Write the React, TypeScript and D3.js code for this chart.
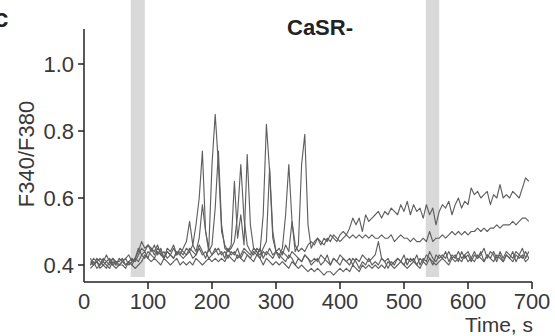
import * as d3 from "d3";

// sample grid: every 5 s from 10 s to 695 s
const time = d3.range(10, 700, 5);

const traceA = [
  0.41, 0.40, 0.42, 0.41, 0.40, 0.41, 0.42, 0.40, 0.41, 0.41,
  0.42, 0.40, 0.41, 0.42, 0.41, 0.43, 0.45, 0.44, 0.46, 0.45,
  0.44, 0.46, 0.43, 0.44, 0.42, 0.43, 0.45, 0.43, 0.44, 0.43,
  0.45, 0.44, 0.46, 0.52, 0.60, 0.74, 0.50, 0.45, 0.70, 0.85,
  0.70, 0.50, 0.46, 0.44, 0.45, 0.47, 0.55, 0.70, 0.54, 0.46,
  0.44, 0.43, 0.45, 0.44, 0.55, 0.82, 0.68, 0.48, 0.44, 0.43,
  0.45, 0.55, 0.70, 0.53, 0.44, 0.46, 0.70, 0.79, 0.52, 0.45,
  0.47, 0.48, 0.46, 0.48, 0.47, 0.49, 0.48, 0.47, 0.49, 0.50,
  0.49, 0.51, 0.54, 0.52, 0.54, 0.50, 0.55, 0.53, 0.54, 0.55,
  0.56, 0.54, 0.56, 0.55, 0.57, 0.56, 0.55, 0.58, 0.56, 0.59,
  0.55, 0.58, 0.56, 0.57, 0.54, 0.58, 0.55, 0.57, 0.52, 0.56,
  0.58, 0.57, 0.59, 0.55, 0.58, 0.60, 0.57, 0.59, 0.58, 0.63,
  0.61, 0.62, 0.60, 0.61, 0.62, 0.58, 0.61, 0.60, 0.64, 0.60,
  0.61, 0.60, 0.62, 0.61, 0.60, 0.63, 0.66, 0.65,
];

const traceB = [
  0.40, 0.41, 0.39, 0.40, 0.41, 0.40, 0.39, 0.41, 0.40, 0.40,
  0.41, 0.40, 0.41, 0.40, 0.42, 0.41, 0.43, 0.42, 0.44, 0.43,
  0.42, 0.44, 0.43, 0.42, 0.44, 0.43, 0.42, 0.44, 0.43, 0.45,
  0.47, 0.53, 0.46, 0.44, 0.48, 0.58, 0.50, 0.44, 0.46, 0.57,
  0.74, 0.52, 0.45, 0.44, 0.46, 0.65, 0.48, 0.55, 0.46, 0.73,
  0.52, 0.45, 0.44, 0.43, 0.45, 0.47, 0.69, 0.50, 0.44, 0.45,
  0.43, 0.46, 0.44, 0.53, 0.46, 0.44, 0.45, 0.44, 0.46, 0.47,
  0.46, 0.48, 0.47, 0.46, 0.48, 0.47, 0.49, 0.48, 0.47, 0.48,
  0.49, 0.48, 0.49, 0.48, 0.49, 0.48, 0.49, 0.48, 0.49, 0.48,
  0.48, 0.49, 0.48, 0.48, 0.49, 0.47, 0.48, 0.49, 0.48, 0.48,
  0.47, 0.48, 0.47, 0.47, 0.48, 0.47, 0.50, 0.47, 0.48, 0.48,
  0.49, 0.48, 0.49, 0.50, 0.49, 0.50, 0.49, 0.50, 0.49, 0.50,
  0.50, 0.51, 0.50, 0.51, 0.50, 0.51, 0.51, 0.52, 0.51, 0.52,
  0.52, 0.52, 0.53, 0.52, 0.53, 0.54, 0.54, 0.53,
];

const traceC = [
  0.40, 0.42, 0.41, 0.40, 0.42, 0.41, 0.40, 0.42, 0.41, 0.40,
  0.41, 0.42, 0.40, 0.41, 0.42, 0.44, 0.47, 0.45, 0.46, 0.44,
  0.46, 0.43, 0.45, 0.42, 0.44, 0.43, 0.42, 0.44, 0.43, 0.42,
  0.43, 0.44, 0.42, 0.43, 0.45, 0.43, 0.44, 0.42, 0.43, 0.45,
  0.43, 0.44, 0.42, 0.45, 0.43, 0.44, 0.42, 0.43, 0.45, 0.44,
  0.43, 0.45, 0.44, 0.42, 0.44, 0.43, 0.45, 0.43, 0.44, 0.42,
  0.44, 0.43, 0.42, 0.44, 0.43, 0.42, 0.41, 0.43, 0.42, 0.41,
  0.42, 0.41, 0.43, 0.42, 0.41, 0.40, 0.42, 0.41, 0.43, 0.42,
  0.41, 0.42, 0.40, 0.42, 0.41, 0.43, 0.42, 0.41, 0.42, 0.43,
  0.47, 0.42, 0.41, 0.42, 0.40, 0.41, 0.42, 0.41, 0.40, 0.42,
  0.41, 0.42, 0.40, 0.42, 0.41, 0.43, 0.42, 0.40, 0.43, 0.42,
  0.43, 0.42, 0.44, 0.42, 0.43, 0.41, 0.44, 0.42, 0.43, 0.41,
  0.43, 0.42, 0.44, 0.41, 0.43, 0.42, 0.44, 0.42, 0.43, 0.41,
  0.43, 0.42, 0.44, 0.41, 0.43, 0.42, 0.44, 0.42,
];

const traceD = [
  0.39, 0.40, 0.41, 0.39, 0.40, 0.39, 0.41, 0.40, 0.39, 0.40,
  0.40, 0.39, 0.41, 0.40, 0.39, 0.40, 0.41, 0.43, 0.42, 0.41,
  0.42, 0.41, 0.40, 0.42, 0.41, 0.40, 0.41, 0.42, 0.40, 0.41,
  0.40, 0.41, 0.40, 0.42, 0.41, 0.40, 0.41, 0.42, 0.41, 0.42,
  0.41, 0.42, 0.41, 0.43, 0.42, 0.41, 0.43, 0.42, 0.41, 0.43,
  0.42, 0.41, 0.43, 0.42, 0.40, 0.42, 0.41, 0.40, 0.41, 0.40,
  0.41, 0.40, 0.39, 0.41, 0.40, 0.39, 0.40, 0.39, 0.38, 0.39,
  0.38, 0.39, 0.38, 0.37, 0.38, 0.38, 0.37, 0.38, 0.39, 0.38,
  0.39, 0.38, 0.40, 0.39, 0.38, 0.40, 0.39, 0.40, 0.39, 0.40,
  0.39, 0.40, 0.39, 0.41, 0.40, 0.39, 0.40, 0.41, 0.40, 0.39,
  0.40, 0.41, 0.40, 0.39, 0.41, 0.40, 0.42, 0.41, 0.40, 0.41,
  0.42, 0.41, 0.40, 0.42, 0.41, 0.42, 0.41, 0.43, 0.41, 0.42,
  0.41, 0.43, 0.42, 0.41, 0.43, 0.42, 0.41, 0.43, 0.42, 0.41,
  0.43, 0.42, 0.41, 0.43, 0.42, 0.43, 0.41, 0.42,
];

const traceE = [
  0.42, 0.40, 0.41, 0.42, 0.41, 0.43, 0.41, 0.42, 0.40, 0.42,
  0.41, 0.42, 0.43, 0.41, 0.42, 0.45, 0.43, 0.44, 0.42, 0.45,
  0.43, 0.45, 0.44, 0.42, 0.45, 0.44, 0.46, 0.43, 0.45, 0.44,
  0.43, 0.45, 0.44, 0.43, 0.46, 0.44, 0.42, 0.45, 0.43, 0.44,
  0.45, 0.43, 0.44, 0.42, 0.44, 0.43, 0.45, 0.42, 0.44, 0.43,
  0.42, 0.44, 0.43, 0.45, 0.42, 0.44, 0.43, 0.42, 0.44, 0.43,
  0.42, 0.41, 0.43, 0.42, 0.40, 0.42, 0.41, 0.43, 0.42, 0.40,
  0.41, 0.42, 0.40, 0.41, 0.43, 0.40, 0.42, 0.41, 0.40, 0.42,
  0.41, 0.40, 0.42, 0.41, 0.39, 0.41, 0.40, 0.42, 0.40, 0.41,
  0.40, 0.42, 0.41, 0.39, 0.41, 0.40, 0.42, 0.41, 0.43, 0.40,
  0.42, 0.41, 0.43, 0.40, 0.42, 0.41, 0.44, 0.42, 0.41, 0.43,
  0.42, 0.44, 0.41, 0.43, 0.42, 0.44, 0.42, 0.43, 0.44, 0.42,
  0.44, 0.42, 0.43, 0.45, 0.42, 0.44, 0.43, 0.41, 0.44, 0.42,
  0.44, 0.43, 0.42, 0.44, 0.43, 0.45, 0.42, 0.44,
];

const traces = [traceC, traceD, traceE, traceB, traceA];

// stimulus periods (s)
const bands = [
  [73, 95],
  [534, 555],
];

const xTicks = [0, 100, 200, 300, 400, 500, 600, 700];
const yTicks = [0.4, 0.6, 0.8, 1.0];

const font = "'Liberation Sans', Arial, sans-serif";

export default function App() {
  const width = 555;
  const height = 336;
  const x = d3.scaleLinear([0, 700], [84, 532]);
  const y = d3.scaleLinear([0.4, 1.0], [265, 64]);
  const axisY = 282; // x-axis position
  const axisTop = 29;

  const line = d3
    .line<number>()
    .x((_, i) => x(time[i]))
    .y((d) => y(d));

  return (
    <svg
      width={width}
      height={height}
      style={{ position: "absolute", left: 0, top: 0, background: "#fff" }}
      fontFamily={font}
    >
      {bands.map(([a, b], i) => (
        <rect key={i} x={x(a)} y={0} width={x(b) - x(a)} height={277} fill="#d9d9d9" />
      ))}

      <g fill="none" stroke="#606060" strokeWidth={1.15} strokeLinejoin="round">
        {traces.map((t, i) => (
          <path key={i} d={line(t) ?? ""} />
        ))}
      </g>

      {/* axes */}
      <g stroke="#222" strokeWidth={1.5}>
        <line x1={84} x2={84} y1={axisTop} y2={axisY} />
        <line x1={84} x2={532} y1={axisY} y2={axisY} />
        {yTicks.map((t) => (
          <line key={t} x1={78} x2={84} y1={y(t)} y2={y(t)} />
        ))}
        {xTicks.slice(1).map((t) => (
          <line key={t} x1={x(t)} x2={x(t)} y1={axisY} y2={axisY + 7} />
        ))}
      </g>
      <g fill="#383838" fontSize={22}>
        {yTicks.map((t) => (
          <text key={t} x={74} y={y(t) + 8} textAnchor="end">
            {t.toFixed(1)}
          </text>
        ))}
        {xTicks.map((t) => (
          <text key={t} x={x(t)} y={309} textAnchor="middle">
            {t}
          </text>
        ))}
        <text x={533} y={331.5} textAnchor="end" fontSize={21}>
          Time, s
        </text>
        <text transform="translate(34,154) rotate(-90)" textAnchor="middle" fontSize={22}>
          F340/F380
        </text>
      </g>
      <text x={287} y={35} fontSize={22} fontWeight="bold" fill="#222">
        CaSR-
      </text>
      <text x={-6} y={27} fontSize={26} fontWeight="bold" fill="#222">
        c
      </text>
    </svg>
  );
}
